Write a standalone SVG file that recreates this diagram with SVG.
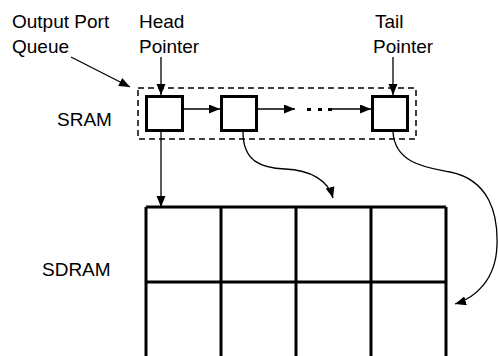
<svg xmlns="http://www.w3.org/2000/svg" width="498" height="356" viewBox="0 0 498 356">
<style>
text{font-family:"Liberation Sans",Arial,sans-serif;font-size:19px;fill:#000}
.box{fill:#fff;stroke:#000;stroke-width:3}
.grid{fill:none;stroke:#000;stroke-width:3}
.ln{fill:none;stroke:#000;stroke-width:1.3}
.arr{marker-end:url(#ah)}
</style>
<defs>
<marker id="ah" markerWidth="12" markerHeight="10" refX="11" refY="4.5" orient="auto" markerUnits="userSpaceOnUse">
<path d="M0,0 L11,4.5 L0,9 Z" fill="#000"/>
</marker>
</defs>
<rect width="498" height="356" fill="#fff"/>
<g id="labels">
<text x="12" y="28">Output Port</text>
<text x="12" y="53">Queue</text>
<text x="139" y="28">Head</text>
<text x="139" y="53">Pointer</text>
<text x="375" y="28">Tail</text>
<text x="373" y="53">Pointer</text>
<text x="57" y="126">SRAM</text>
<text x="42" y="276">SDRAM</text>
</g>
<g id="queue-frame">
<rect x="138" y="88" width="278" height="51" fill="none" stroke="#000" stroke-width="1.5" stroke-dasharray="6 4"/>
</g>
<g id="sdram">
<path class="grid" d="M146,207 H446 M146,282 H446 M146,207 V356 M221,207 V356 M296,207 V356 M371,207 V356 M446,207 V356"/>
</g>
<g id="connectors">
<line class="ln arr" x1="71" y1="57" x2="130" y2="87"/>
<line class="ln arr" x1="161" y1="57" x2="161" y2="95"/>
<line class="ln arr" x1="393" y1="57" x2="393" y2="95"/>
<line class="ln arr" x1="184" y1="109" x2="220" y2="109"/>
<line class="ln arr" x1="258" y1="109" x2="295" y2="109"/>
<line class="ln arr" x1="332" y1="109" x2="371" y2="109"/>
<line class="ln arr" x1="161" y1="132" x2="161" y2="207"/>
<path class="ln arr" d="M243,132 C243,162 262,168 285,169 C310,170 328,180 333,198"/>
<path class="ln arr" d="M393,132 C395,165 430,168 450,172 C490,180 498,215 497,245 C496,280 475,298 455,304"/>
</g>
<g id="dots">
<rect x="307" y="108" width="4" height="3"/>
<rect x="318" y="108" width="4" height="3"/>
<rect x="328" y="108" width="4" height="3"/>
</g>
<g id="node-head">
<rect class="box" x="146.5" y="96.5" width="36" height="34"/>
</g>
<g id="node-2">
<rect class="box" x="221.5" y="96.5" width="35" height="34"/>
</g>
<g id="node-tail">
<rect class="box" x="372.5" y="96.5" width="35" height="34"/>
</g>
</svg>
